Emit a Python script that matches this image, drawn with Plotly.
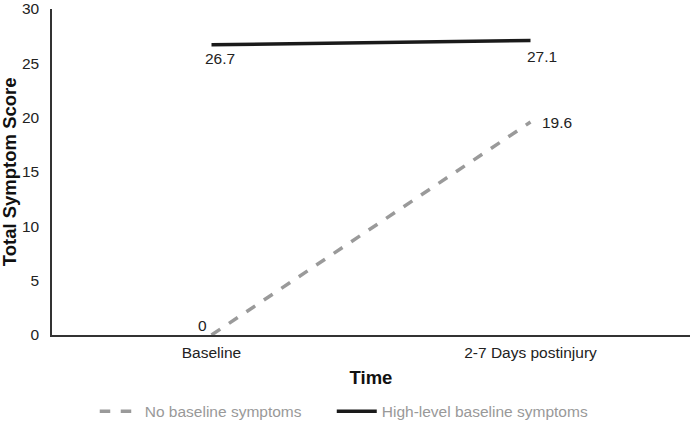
import plotly.graph_objects as go

categories = ["Baseline", "2-7 Days postinjury"]
no_baseline = [0, 19.6]
high_level = [26.7, 27.1]
y_ticks = [0, 5, 10, 15, 20, 25, 30]

fig = go.Figure()
fig.add_trace(go.Scatter(
    x=categories, y=no_baseline, mode="lines", name="No baseline symptoms",
    line=dict(color="#9a9a9a", width=3.5, dash="dash"), legend="legend",
))
fig.add_trace(go.Scatter(
    x=categories, y=high_level, mode="lines", name="High-level baseline symptoms",
    line=dict(color="#1a1a1a", width=3.5), legend="legend2",
))

font_lbl = dict(family="Liberation Sans, Arial, sans-serif", size=15.5, color="#222")
ann = [
    (categories[0], high_level[0], "left", -9, -14),
    (categories[1], high_level[1], "left", -6, -16),
    (categories[1], no_baseline[1], "left", 9, 0),
    (categories[0], no_baseline[0], "right", -3, 10),
]
for (xv, yv, anc, xs, ys), val in zip(ann, [high_level[0], high_level[1], no_baseline[1], no_baseline[0]]):
    fig.add_annotation(x=xv, y=yv, xref="x", yref="y", text=f"{val:g}", showarrow=False,
                       xanchor=anc, yanchor="middle", xshift=xs, yshift=ys, font=font_lbl)

# y-axis title as rotated annotation
fig.add_annotation(x=-0.067, y=0.5, xref="paper", yref="paper", text="<b>Total Symptom Score</b>",
                   textangle=-90, showarrow=False, xanchor="center", yanchor="middle",
                   font=dict(family="Liberation Sans, Arial, sans-serif", size=18.5, color="#111"))

legend_common = dict(orientation="h", xanchor="left", y=-0.235, yanchor="middle",
                     font=dict(size=15.5, color="#999"), itemwidth=40,
                     bgcolor="rgba(0,0,0,0)")

fig.update_layout(
    width=690, height=429,
    margin=dict(l=52, r=0, t=9, b=94),
    paper_bgcolor="white", plot_bgcolor="white",
    font=dict(family="Liberation Sans, Arial, sans-serif", size=15.5, color="#222"),
    xaxis=dict(
        type="category", range=[-0.5, 1.5], showgrid=False, zeroline=False,
        showline=True, linecolor="#333", linewidth=1.5, ticks="",
        automargin=False, ticklabelstandoff=3,
        title=dict(text="<b>Time</b>", font=dict(size=18.5, color="#111"), standoff=11),
    ),
    yaxis=dict(
        range=[0, 30], tickvals=y_ticks, showgrid=False, zeroline=False,
        showline=True, linecolor="#333", linewidth=1.5, ticks="",
        automargin=False, ticklabelstandoff=8, ticklabeloverflow="allow",
    ),
    legend=dict(x=0.067, **legend_common),
    legend2=dict(x=0.4385, **legend_common),
    showlegend=True,
)

fig.write_html("out.html", config={"displayModeBar": False},
               post_script="document.body.style.margin='0px';")
